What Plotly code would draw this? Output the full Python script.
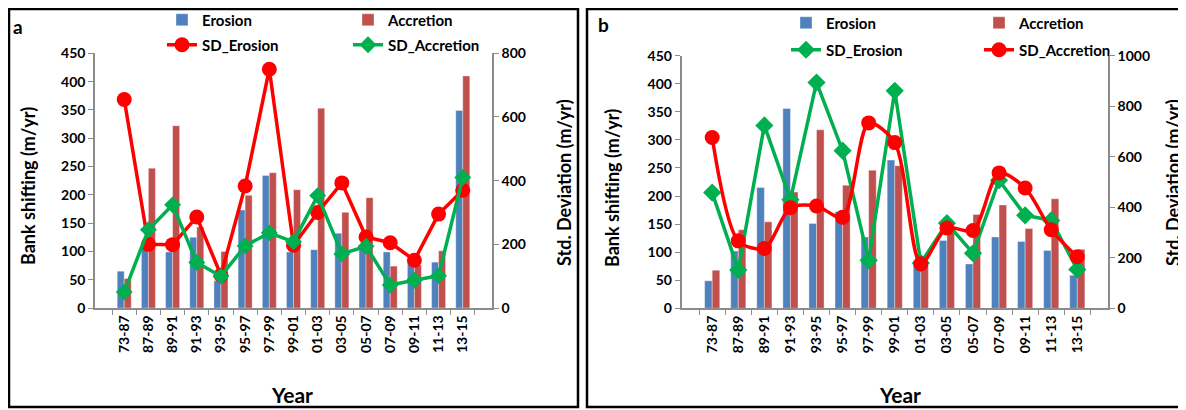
import plotly.graph_objects as go

years = ["73-87", "87-89", "89-91", "91-93", "93-95", "95-97", "97-99", "99-01",
         "01-03", "03-05", "05-07", "07-09", "09-11", "11-13", "13-15"]

# Panel a
a_erosion = [65, 105, 99, 125, 48, 173, 234, 99, 103, 132, 108, 99, 80, 81, 349]
a_accretion = [52, 247, 322, 143, 100, 199, 239, 209, 353, 169, 195, 74, 76, 101, 410]
a_sd_erosion = [655, 200, 199, 286, 103, 383, 750, 197, 300, 393, 223, 205, 150, 295, 370]
a_sd_accretion = [50, 246, 324, 143, 100, 195, 236, 208, 353, 170, 194, 72, 87, 101, 410]

# Panel b
b_erosion = [49, 102, 215, 356, 151, 172, 127, 264, 80, 121, 79, 127, 119, 103, 59]
b_accretion = [68, 140, 154, 207, 318, 219, 246, 254, 77, 135, 167, 184, 142, 195, 105]
b_sd_erosion = [458, 152, 724, 430, 894, 624, 190, 861, 179, 337, 218, 507, 368, 348, 154]
b_sd_accretion = [676, 267, 237, 398, 405, 360, 734, 656, 176, 318, 308, 536, 476, 311, 204]

BLUE = "#4F81BD"
RED_BAR = "#C0504D"
RED = "#FF0000"
GREEN = "#00B050"
FONT = "Lato"

# page body has an 8px margin; figure sized to fit the 1186x410 window
OFF = 8
W, H = 1186 - OFF, 410 - OFF
def px(x):
    return (x - OFF) / W
def py(y):
    return 1 - (y - OFF) / H

fig = go.Figure()

bar_line = dict(color="rgba(255,255,255,0.6)", width=0.6)

# ---- Panel a
fig.add_trace(go.Bar(x=years, y=a_erosion, name="Erosion", marker=dict(color=BLUE, line=bar_line),
                     xaxis="x", yaxis="y", legend="legend"))
fig.add_trace(go.Bar(x=years, y=a_accretion, name="Accretion", marker=dict(color=RED_BAR, line=bar_line),
                     xaxis="x", yaxis="y", legend="legend"))
fig.add_trace(go.Scatter(x=years, y=a_sd_erosion, name="SD_Erosion", mode="lines+markers",
                         line=dict(color=RED, width=3.5), marker=dict(symbol="circle", size=15, color=RED),
                         xaxis="x", yaxis="y2", legend="legend2"))
fig.add_trace(go.Scatter(x=years, y=a_sd_accretion, name="SD_Accretion", mode="lines+markers",
                         line=dict(color=GREEN, width=3.5), marker=dict(symbol="diamond", size=13, color=GREEN),
                         xaxis="x", yaxis="y2", legend="legend2"))

# ---- Panel b
fig.add_trace(go.Bar(x=years, y=b_erosion, name="Erosion", marker=dict(color=BLUE, line=bar_line),
                     xaxis="x2", yaxis="y3", legend="legend3"))
fig.add_trace(go.Bar(x=years, y=b_accretion, name="Accretion", marker=dict(color=RED_BAR, line=bar_line),
                     xaxis="x2", yaxis="y3", legend="legend3"))
fig.add_trace(go.Scatter(x=years, y=b_sd_erosion, name="SD_Erosion", mode="lines+markers",
                         line=dict(color=GREEN, width=3.5), marker=dict(symbol="diamond", size=14, color=GREEN),
                         xaxis="x2", yaxis="y4", legend="legend4"))
fig.add_trace(go.Scatter(x=years, y=b_sd_accretion, name="SD_Accretion", mode="lines+markers",
                         line=dict(color=RED, width=3.5, shape="spline", smoothing=0.8),
                         marker=dict(symbol="circle", size=15, color=RED),
                         xaxis="x2", yaxis="y4", legend="legend4"))

tickfont = dict(family=FONT, size=14, color="black", weight="bold")
axis_common = dict(showline=True, linecolor="#8C8C8C", linewidth=1.5, ticks="outside",
                   tickcolor="#8C8C8C", ticklen=5, showgrid=False, zeroline=False,
                   tickfont=tickfont, fixedrange=True, automargin=False)

xa = dict(type="category", tickangle=-90, tickson="boundaries", **axis_common)

ya_dom = [py(308), py(53.3)]
yb_dom = [py(308.3), py(55.7)]

fig.update_layout(
    width=W, height=H,
    margin=dict(l=0, r=0, t=0, b=0, pad=0, autoexpand=False),
    paper_bgcolor="white", plot_bgcolor="white",
    barmode="group", bargap=0.42, bargroupgap=0,
    xaxis=dict(domain=[px(95), px(492)], anchor="y", **xa),
    yaxis=dict(domain=ya_dom, range=[0, 450], dtick=50, anchor="x", **axis_common),
    yaxis2=dict(range=[0, 800], dtick=200, overlaying="y", side="right", anchor="x", **axis_common),
    xaxis2=dict(domain=[px(681.5), px(1108)], anchor="y3", **xa),
    yaxis3=dict(domain=yb_dom, range=[0, 450], dtick=50, anchor="x2", **axis_common),
    yaxis4=dict(range=[0, 1000], dtick=200, overlaying="y3", side="right", anchor="x2", **axis_common),
    showlegend=True,
)

legfont = dict(family=FONT, size=15, color="black", weight="bold")
def leg(x, y, ew):
    return dict(x=px(x), y=py(y), xanchor="left", yanchor="middle", orientation="h",
                bgcolor="rgba(0,0,0,0)", font=legfont, entrywidth=ew, entrywidthmode="pixels",
                itemclick=False, itemdoubleclick=False, tracegroupgap=0)

fig.update_layout(
    legend=leg(162, 20, 141),
    legend2=leg(162, 45, 141),
    legend3=leg(786, 23, 148),
    legend4=leg(786, 50, 148),
)

# Panel frames
for x0, x1 in [(9, 578), (587, 1182)]:
    fig.add_shape(type="rect", xref="paper", yref="paper", x0=px(x0), x1=px(x1), y0=py(407), y1=py(9),
                  line=dict(color="black", width=2.5), fillcolor="rgba(0,0,0,0)", layer="below")

ann_font = dict(family=FONT, size=18, color="black", weight="bold")
annotations = [
    dict(text="a", x=px(18), y=py(27), font=dict(family=FONT, size=19, color="black", weight="bold")),
    dict(text="b", x=px(603), y=py(25), font=dict(family=FONT, size=19, color="black", weight="bold")),
    dict(text="Bank shifting (m/yr)", x=px(28), y=py(186), textangle=-90, font=ann_font),
    dict(text="Std. Deviation (m/yr)", x=px(564), y=py(183), textangle=-90, font=ann_font),
    dict(text="Bank shifting (m/yr)", x=px(612), y=py(188), textangle=-90, font=ann_font),
    dict(text="Std. Deviation (m/yr)", x=px(1173), y=py(183), textangle=-90, font=ann_font),
    dict(text="Year", x=px(292), y=py(394), font=dict(family=FONT, size=21, color="black", weight="bold")),
    dict(text="Year", x=px(900), y=py(394), font=dict(family=FONT, size=21, color="black", weight="bold")),
]
for a in annotations:
    a.update(xref="paper", yref="paper", showarrow=False, xanchor="center", yanchor="middle")
fig.update_layout(annotations=annotations)

fig.write_html("out.html")
